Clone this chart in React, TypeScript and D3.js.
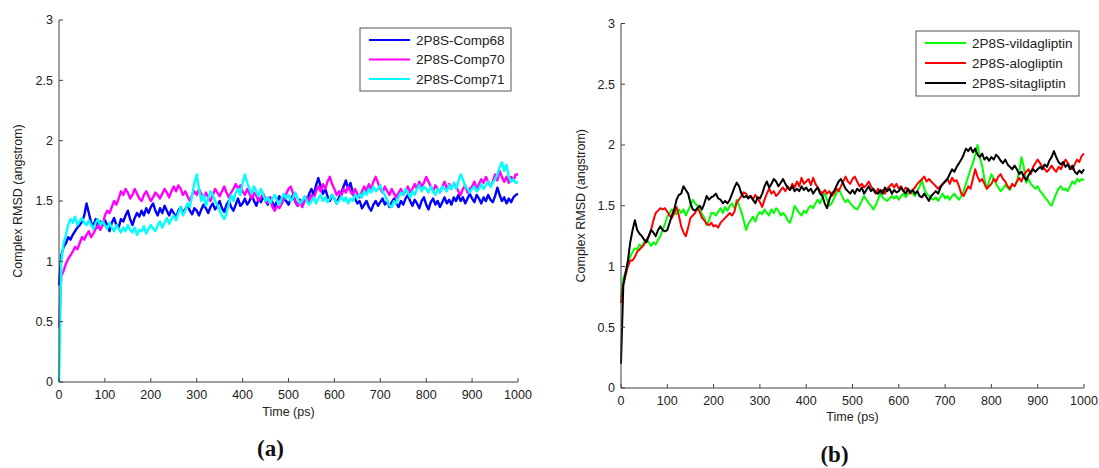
import React from "react";
import * as d3 from "d3";

// ---- Data (RMSD in angstrom, sampled every 5 ps from 0 to 1000 ps) ----
const STEP = 5;
const xTicks = [0, 100, 200, 300, 400, 500, 600, 700, 800, 900, 1000];
const yTicks = [0, 0.5, 1, 1.5, 2, 2.5, 3];
const yTickLabels = ["0", "0.5", "1", "1.5", "2", "2.5", "3"];

const comp68 = [
  0.8, 1.05, 1.12, 1.15, 1.2, 1.18, 1.22, 1.25, 1.28, 1.3,
  1.33, 1.38, 1.48, 1.4, 1.32, 1.3, 1.35, 1.28, 1.33, 1.3,
  1.34, 1.3, 1.25, 1.32, 1.36, 1.3, 1.28, 1.35, 1.33, 1.38,
  1.42, 1.35, 1.3, 1.36, 1.4, 1.37, 1.42, 1.38, 1.44, 1.4,
  1.45, 1.48, 1.42, 1.38, 1.44, 1.4, 1.46, 1.42, 1.38, 1.43,
  1.4, 1.36, 1.42, 1.45, 1.4, 1.43, 1.47, 1.42, 1.39, 1.44,
  1.42, 1.38, 1.43, 1.47, 1.44, 1.4, 1.45, 1.48, 1.43, 1.46,
  1.5, 1.44, 1.41, 1.47, 1.5, 1.45, 1.42, 1.47, 1.52, 1.46,
  1.48, 1.52, 1.47, 1.5, 1.55, 1.5, 1.46, 1.52, 1.49, 1.54,
  1.5, 1.47, 1.53, 1.49, 1.45, 1.5, 1.54, 1.48, 1.52, 1.5,
  1.47, 1.52, 1.55, 1.49, 1.46, 1.51, 1.48, 1.53, 1.5, 1.56,
  1.6, 1.55, 1.63, 1.69, 1.62, 1.56, 1.6, 1.54, 1.5, 1.55,
  1.52, 1.48, 1.53, 1.57, 1.62, 1.67, 1.6, 1.65, 1.57, 1.52,
  1.48, 1.5, 1.44, 1.47, 1.5, 1.45, 1.42, 1.47, 1.5, 1.46,
  1.49, 1.52, 1.47, 1.5, 1.45, 1.49, 1.52, 1.48, 1.45, 1.5,
  1.47, 1.52, 1.55, 1.5, 1.46, 1.51, 1.48, 1.44, 1.5, 1.53,
  1.47, 1.43, 1.49, 1.52, 1.47, 1.5, 1.45, 1.49, 1.53, 1.48,
  1.51, 1.47, 1.53, 1.5, 1.55, 1.5, 1.53, 1.48, 1.52, 1.56,
  1.52, 1.49, 1.55, 1.52, 1.48, 1.53, 1.5, 1.55, 1.51, 1.49,
  1.54, 1.61, 1.55, 1.5, 1.53, 1.48, 1.52, 1.49, 1.53, 1.55,
  1.56,
];

const comp70 = [
  0.45, 0.88, 0.92, 0.98, 1.02, 1.05, 1.08, 1.12, 1.1, 1.15,
  1.2, 1.18, 1.22, 1.25, 1.2, 1.23, 1.27, 1.3, 1.26, 1.3,
  1.38, 1.42, 1.4, 1.45, 1.5, 1.47, 1.52, 1.58, 1.55, 1.6,
  1.57, 1.52, 1.55, 1.6, 1.56, 1.52, 1.5, 1.55, 1.58, 1.54,
  1.5, 1.53, 1.57, 1.55, 1.52, 1.56, 1.6, 1.57, 1.53, 1.58,
  1.62, 1.58, 1.63, 1.6, 1.55, 1.58, 1.54, 1.5, 1.55, 1.58,
  1.55, 1.6, 1.56, 1.52, 1.57, 1.53, 1.5, 1.55, 1.6, 1.57,
  1.54, 1.58, 1.62, 1.57, 1.53, 1.57, 1.6, 1.64, 1.6, 1.63,
  1.58, 1.55, 1.6, 1.56, 1.52, 1.57, 1.54, 1.5, 1.53, 1.56,
  1.52, 1.48, 1.53, 1.45, 1.42, 1.46, 1.44, 1.48, 1.52, 1.56,
  1.6, 1.62, 1.56, 1.5, 1.46, 1.5, 1.45, 1.5, 1.53, 1.5,
  1.55, 1.52, 1.58, 1.62, 1.58, 1.64, 1.6, 1.66, 1.7, 1.64,
  1.6, 1.55, 1.58, 1.54, 1.6, 1.57, 1.62, 1.58, 1.55, 1.6,
  1.56, 1.53, 1.58, 1.62, 1.58, 1.64, 1.6, 1.66, 1.7, 1.65,
  1.6, 1.57, 1.62, 1.58, 1.55, 1.6, 1.56, 1.53, 1.57, 1.6,
  1.55, 1.58, 1.62, 1.57, 1.6, 1.64, 1.6, 1.66, 1.62, 1.65,
  1.7, 1.66, 1.62, 1.58, 1.63, 1.6, 1.57, 1.62, 1.66, 1.6,
  1.64, 1.6, 1.65, 1.62, 1.58, 1.55, 1.6, 1.63, 1.57, 1.6,
  1.62, 1.66, 1.6, 1.64, 1.68, 1.65, 1.7, 1.66, 1.62, 1.66,
  1.72, 1.67, 1.75, 1.7, 1.66, 1.7, 1.65, 1.7, 1.67, 1.72,
  1.72,
];

const comp71 = [
  0.0, 1.0, 1.15, 1.22, 1.3, 1.35, 1.32, 1.37, 1.3, 1.33,
  1.36, 1.32, 1.3, 1.34, 1.3, 1.27, 1.32, 1.35, 1.3, 1.33,
  1.3, 1.27, 1.32, 1.28, 1.25, 1.3, 1.27, 1.24, 1.28, 1.25,
  1.3, 1.26, 1.24, 1.28, 1.22, 1.26, 1.25, 1.29, 1.23, 1.27,
  1.3, 1.27, 1.25, 1.3, 1.33, 1.28, 1.32, 1.36, 1.31, 1.35,
  1.38, 1.34, 1.4, 1.45, 1.38, 1.42, 1.48, 1.45, 1.55, 1.65,
  1.72, 1.6, 1.5, 1.55, 1.46, 1.52, 1.58, 1.55, 1.5, 1.47,
  1.42, 1.38, 1.35, 1.4, 1.48, 1.55, 1.5, 1.57, 1.6, 1.55,
  1.65, 1.72, 1.65, 1.6, 1.56, 1.62, 1.58, 1.54, 1.6, 1.55,
  1.5, 1.53, 1.48, 1.52, 1.55, 1.5, 1.47, 1.52, 1.56, 1.52,
  1.55, 1.5, 1.53, 1.57, 1.52, 1.48, 1.5, 1.54, 1.5, 1.47,
  1.5, 1.53, 1.48, 1.52, 1.55, 1.5, 1.53, 1.49, 1.52, 1.55,
  1.52, 1.48, 1.5, 1.54, 1.5, 1.53, 1.48, 1.52, 1.5, 1.55,
  1.52, 1.56, 1.53, 1.58, 1.55, 1.6, 1.57, 1.62, 1.58, 1.6,
  1.63, 1.58, 1.55, 1.5, 1.46, 1.45, 1.5, 1.48, 1.53, 1.57,
  1.55, 1.6, 1.57, 1.53, 1.58, 1.55, 1.6, 1.63, 1.58, 1.62,
  1.6, 1.57, 1.62, 1.58, 1.55, 1.6, 1.57, 1.62, 1.6, 1.58,
  1.63, 1.6, 1.65, 1.6, 1.66, 1.72, 1.68, 1.62, 1.6, 1.57,
  1.6, 1.62, 1.58, 1.6, 1.64, 1.6, 1.63, 1.66, 1.62, 1.65,
  1.68, 1.72, 1.78, 1.82, 1.75, 1.8, 1.7, 1.66, 1.68, 1.65,
  1.66,
];

const vildagliptin = [
  0.75, 0.9, 0.96, 1.02, 1.08, 1.12, 1.15, 1.14, 1.18, 1.16,
  1.2, 1.22, 1.2, 1.17, 1.2, 1.18, 1.22, 1.25, 1.3, 1.35,
  1.41, 1.44, 1.47, 1.45, 1.43, 1.47, 1.44, 1.47, 1.42, 1.46,
  1.5, 1.55, 1.52, 1.5, 1.47, 1.43, 1.4, 1.34, 1.38, 1.44,
  1.44, 1.42, 1.45, 1.48, 1.44, 1.49, 1.46, 1.5, 1.52, 1.48,
  1.55, 1.5, 1.45, 1.38, 1.3, 1.35, 1.38, 1.41, 1.37, 1.42,
  1.45, 1.43, 1.47, 1.44, 1.42, 1.47, 1.44, 1.48, 1.46, 1.42,
  1.44, 1.42, 1.38, 1.36, 1.42, 1.5, 1.47, 1.44, 1.42, 1.46,
  1.44, 1.48, 1.5, 1.48, 1.52, 1.55, 1.52, 1.57, 1.6, 1.55,
  1.5, 1.52, 1.56, 1.6, 1.64, 1.6, 1.56, 1.53, 1.55, 1.52,
  1.5, 1.48, 1.47, 1.5, 1.54, 1.58, 1.55, 1.52, 1.5, 1.47,
  1.5, 1.55, 1.6, 1.57, 1.55, 1.54, 1.56, 1.58, 1.56, 1.58,
  1.55, 1.58, 1.6, 1.57, 1.6, 1.62, 1.6, 1.58, 1.62, 1.66,
  1.71, 1.64, 1.6, 1.58, 1.56, 1.55, 1.57, 1.54, 1.57, 1.6,
  1.56, 1.58, 1.55, 1.58, 1.6, 1.57, 1.55, 1.58, 1.62, 1.68,
  1.74, 1.8, 1.85, 1.92, 2.0, 1.9, 1.83, 1.72, 1.64, 1.7,
  1.76, 1.72, 1.68, 1.65, 1.62, 1.64, 1.67, 1.65, 1.63, 1.68,
  1.66, 1.7, 1.78, 1.9, 1.82, 1.69, 1.72, 1.68, 1.66, 1.64,
  1.66, 1.62, 1.6, 1.57, 1.55, 1.52, 1.5, 1.55, 1.6, 1.64,
  1.66, 1.63, 1.64, 1.62, 1.66, 1.7, 1.68, 1.72, 1.7, 1.72,
  1.71,
];

const alogliptin = [
  0.7, 0.85, 0.93, 1.0, 1.05, 1.05, 1.08, 1.12, 1.14, 1.16,
  1.18, 1.22, 1.25, 1.3, 1.38, 1.44, 1.46, 1.48, 1.47, 1.48,
  1.45, 1.42, 1.4, 1.44, 1.49, 1.42, 1.33, 1.28, 1.25, 1.32,
  1.4, 1.42, 1.44, 1.48, 1.45, 1.4, 1.38, 1.35, 1.34, 1.36,
  1.33, 1.34, 1.32, 1.36, 1.38, 1.4, 1.42, 1.44, 1.42, 1.45,
  1.53, 1.55, 1.58, 1.61, 1.6, 1.57, 1.58, 1.55, 1.59, 1.56,
  1.53, 1.49, 1.55, 1.6, 1.64, 1.6, 1.62, 1.58, 1.6, 1.63,
  1.65, 1.62, 1.66, 1.63, 1.68, 1.65, 1.7, 1.66, 1.73, 1.68,
  1.7, 1.72, 1.67, 1.73, 1.68, 1.65, 1.62, 1.6, 1.63, 1.6,
  1.62, 1.58, 1.6, 1.64, 1.62, 1.66, 1.7, 1.74, 1.7, 1.68,
  1.72, 1.74, 1.7, 1.66, 1.68, 1.65, 1.67, 1.7, 1.66, 1.63,
  1.6, 1.64, 1.61, 1.63, 1.6, 1.64, 1.66, 1.68, 1.65, 1.68,
  1.64, 1.66, 1.62, 1.65, 1.63, 1.6, 1.63, 1.65, 1.68, 1.7,
  1.72, 1.74, 1.7, 1.72, 1.7, 1.68, 1.66, 1.64, 1.66, 1.68,
  1.7, 1.72, 1.68, 1.73, 1.7, 1.71, 1.66, 1.6, 1.58, 1.62,
  1.66, 1.64, 1.72, 1.8, 1.74, 1.7, 1.72, 1.68, 1.64, 1.66,
  1.68, 1.72, 1.7, 1.74, 1.76, 1.72, 1.7, 1.66, 1.64, 1.68,
  1.66, 1.7, 1.73, 1.7, 1.75, 1.78, 1.8, 1.76, 1.82, 1.85,
  1.88, 1.85, 1.82, 1.8, 1.78, 1.8, 1.83, 1.8, 1.78, 1.82,
  1.8, 1.84, 1.88, 1.85, 1.82, 1.8, 1.84, 1.88, 1.86, 1.91,
  1.93,
];

const sitagliptin = [
  0.2, 0.85, 0.95, 1.05, 1.2, 1.3, 1.38, 1.3, 1.27, 1.25,
  1.22, 1.2, 1.25, 1.3, 1.28, 1.25, 1.3, 1.33, 1.3, 1.29,
  1.3, 1.36, 1.42, 1.47, 1.55, 1.59, 1.6, 1.66, 1.63, 1.6,
  1.52, 1.47, 1.46, 1.48, 1.5, 1.47, 1.52, 1.58, 1.55, 1.57,
  1.58, 1.6, 1.56, 1.55, 1.52, 1.54, 1.52, 1.55, 1.6, 1.65,
  1.69, 1.66, 1.6, 1.57, 1.58, 1.56, 1.58, 1.55, 1.52, 1.57,
  1.56, 1.6, 1.66, 1.7, 1.65, 1.68, 1.72, 1.7, 1.66, 1.69,
  1.72, 1.68, 1.65, 1.63, 1.66, 1.62, 1.64, 1.62, 1.66, 1.63,
  1.65, 1.62, 1.64, 1.6, 1.63, 1.65, 1.6, 1.58, 1.52, 1.48,
  1.55, 1.6, 1.62, 1.66, 1.7, 1.72, 1.68, 1.64, 1.62, 1.6,
  1.63, 1.6, 1.64, 1.62, 1.65, 1.6, 1.63, 1.66, 1.62, 1.64,
  1.61, 1.6, 1.63, 1.6, 1.65, 1.62, 1.64, 1.6, 1.63, 1.61,
  1.62, 1.65, 1.62, 1.6, 1.64, 1.61, 1.63, 1.6, 1.62, 1.58,
  1.57, 1.6, 1.57, 1.54, 1.58, 1.6, 1.62, 1.6, 1.65, 1.68,
  1.7, 1.72, 1.76, 1.8, 1.78, 1.82, 1.85, 1.88, 1.92, 1.97,
  1.95, 1.98, 1.94, 1.97, 1.92, 1.9, 1.93, 1.88, 1.9, 1.87,
  1.9, 1.88, 1.92, 1.9, 1.87, 1.85, 1.88, 1.84, 1.82, 1.8,
  1.83, 1.8, 1.76, 1.78, 1.74, 1.71, 1.75, 1.78, 1.8, 1.78,
  1.8, 1.82, 1.8, 1.84, 1.82, 1.87, 1.9, 1.95, 1.9, 1.86,
  1.84, 1.86, 1.82, 1.84, 1.8, 1.83, 1.78, 1.76, 1.79, 1.77,
  1.8,
];

const namesA = ["2P8S-Comp68", "2P8S-Comp70", "2P8S-Comp71"];
const namesB = ["2P8S-vildagliptin", "2P8S-alogliptin", "2P8S-sitagliptin"];
const colorsA = ["#0000ff", "#ff00ff", "#00ffff"];
const colorsB = ["#00ff00", "#ff0000", "#000000"];

type Panel = {
  left: number; right: number; top: number; bottom: number;
  series: number[][]; names: string[]; colors: string[];
  lw: number; legend: { x: number; y: number; w: number; h: number; row: number };
  ylabX: number; xlabY: number; tag: string; tagY: number;
};

const FONT = "Arial, 'Liberation Sans', sans-serif";
const AXIS = "#404040";

function PanelView({ p }: { p: Panel }) {
  const x = d3.scaleLinear().domain([0, 1000]).range([p.left, p.right]);
  const y = d3.scaleLinear().domain([0, 3]).range([p.bottom, p.top]);
  const line = d3
    .line<number>()
    .x((_, i) => x(i * STEP))
    .y((v) => y(v));
  const cx = (p.left + p.right) / 2;
  const cy = (p.top + p.bottom) / 2;
  const L = p.legend;
  return (
    <g>
      {p.series.map((s, i) => (
        <path key={i} d={line(s) || ""} fill="none" stroke={p.colors[i]} strokeWidth={p.lw} strokeLinejoin="round" />
      ))}
      <line x1={p.left} x2={p.left} y1={p.top} y2={p.bottom} stroke={AXIS} strokeWidth={1} />
      <line x1={p.left} x2={p.right} y1={p.bottom} y2={p.bottom} stroke={AXIS} strokeWidth={1} />
      {yTicks.map((t, i) => (
        <g key={"y" + i}>
          <line x1={p.left} x2={p.left + 4} y1={y(t)} y2={y(t)} stroke={AXIS} />
          <text x={p.left - 6} y={y(t)} dy="0.35em" textAnchor="end" fontFamily={FONT} fontSize={12.5} fill="#222">
            {yTickLabels[i]}
          </text>
        </g>
      ))}
      {xTicks.map((t, i) => (
        <g key={"x" + i}>
          <line x1={x(t)} x2={x(t)} y1={p.bottom} y2={p.bottom - 4} stroke={AXIS} />
          <text x={x(t)} y={p.bottom + 17} textAnchor="middle" fontFamily={FONT} fontSize={12.5} fill="#222">
            {String(t)}
          </text>
        </g>
      ))}
      <text x={cx} y={p.xlabY} textAnchor="middle" fontFamily={FONT} fontSize={12.5} fill="#222">
        Time (ps)
      </text>
      <text
        transform={`translate(${p.ylabX},${cy}) rotate(-90)`}
        textAnchor="middle"
        fontFamily={FONT}
        fontSize={12.5}
        fill="#222"
      >
        Complex RMSD (angstrom)
      </text>
      <rect x={L.x} y={L.y} width={L.w} height={L.h} fill="#fff" stroke="#555" strokeWidth={1} />
      {p.names.map((n, i) => {
        const ly = L.y + 12 + i * L.row;
        return (
          <g key={"l" + i}>
            <line x1={L.x + 9} x2={L.x + 50} y1={ly} y2={ly} stroke={p.colors[i]} strokeWidth={2.2} />
            <text x={L.x + 56} y={ly} dy="0.35em" fontFamily={FONT} fontSize={13.5} fill="#222">
              {n}
            </text>
          </g>
        );
      })}
      <text x={cx - 18} y={p.tagY} textAnchor="middle" fontFamily="'Liberation Serif', 'DejaVu Serif', serif" fontSize={23} fontWeight="bold" fill="#111">
        ({p.tag})
      </text>
    </g>
  );
}

const panelA: Panel = {
  left: 59, right: 518, top: 20, bottom: 382,
  series: [comp68, comp70, comp71], names: namesA, colors: colorsA, lw: 2.4,
  legend: { x: 360, y: 28, w: 151, h: 63, row: 19.5 },
  ylabX: 22, xlabY: 416, tag: "a", tagY: 456,
};

const panelB: Panel = {
  left: 621, right: 1084, top: 23.5, bottom: 388,
  series: [vildagliptin, alogliptin, sitagliptin], names: namesB, colors: colorsB, lw: 2,
  legend: { x: 916, y: 31, w: 163, h: 65, row: 20 },
  ylabX: 585, xlabY: 421, tag: "b", tagY: 462,
};

export default function App() {
  return (
    <svg
      width={1099}
      height={468}
      style={{ position: "absolute", left: 0, top: 0, background: "#fff" }}
    >
      <rect width={1099} height={468} fill="#fff" />
      <PanelView p={panelA} />
      <PanelView p={panelB} />
    </svg>
  );
}
